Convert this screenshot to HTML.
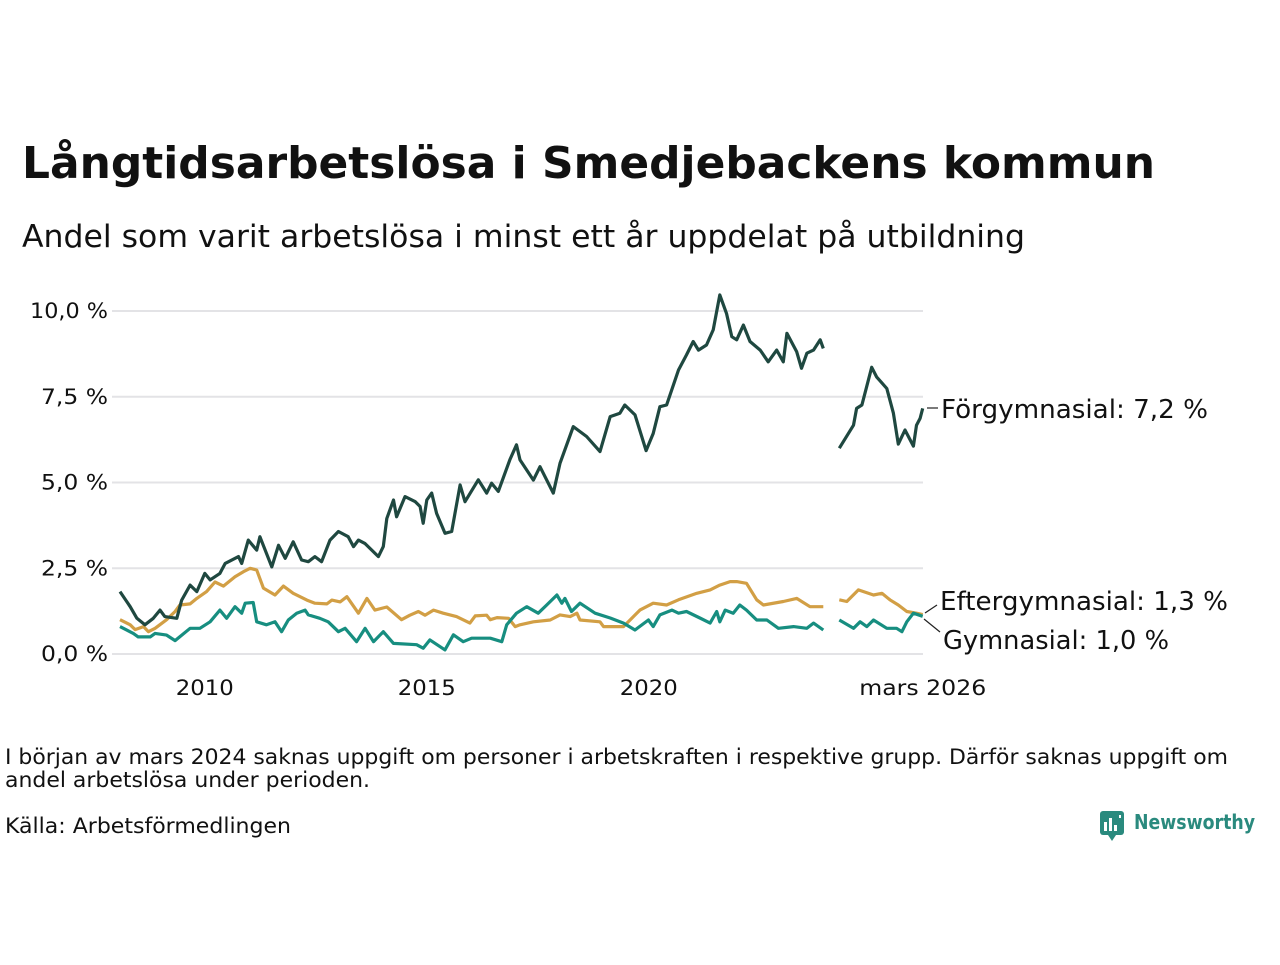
<!DOCTYPE html>
<html><head><meta charset="utf-8"><style>
body{margin:0;background:#fff;width:1280px;height:960px;overflow:hidden;font-family:"Liberation Sans",sans-serif;color:#111}
svg text{font-family:"DejaVu Sans","Liberation Sans",sans-serif}
</style></head><body>
<svg id="chart" width="1280" height="960">
<text x="22" y="178" font-size="44" font-weight="bold" fill="#111" textLength="1133" lengthAdjust="spacingAndGlyphs">Långtidsarbetslösa i Smedjebackens kommun</text>
<text x="22" y="247" font-size="31" fill="#111" textLength="1003" lengthAdjust="spacingAndGlyphs">Andel som varit arbetslösa i minst ett år uppdelat på utbildning</text>
<g id="grid"></g><g id="series"></g><g id="labels"></g>
<text x="5" y="764" font-size="21" fill="#111" textLength="1223" lengthAdjust="spacingAndGlyphs">I början av mars 2024 saknas uppgift om personer i arbetskraften i respektive grupp. Därför saknas uppgift om</text>
<text x="5" y="787" font-size="21" fill="#111" textLength="365" lengthAdjust="spacingAndGlyphs">andel arbetslösa under perioden.</text>
<text x="5" y="833" font-size="21" fill="#111" textLength="286" lengthAdjust="spacingAndGlyphs">Källa: Arbetsförmedlingen</text>
<g>
<rect x="1100" y="811" width="24" height="24" rx="3" fill="#2a8a7e"/>
<path d="M1108 835 L1112 841 L1116 835 Z" fill="#2a8a7e"/>
<rect x="1104" y="822" width="3" height="9" fill="#fff"/><rect x="1109" y="818" width="3" height="13" fill="#fff"/><rect x="1114" y="825" width="3" height="6" fill="#fff"/><rect x="1119" y="815" width="2" height="3" fill="#fff"/>
<text x="1134" y="829" font-size="20" font-weight="bold" fill="#2a8a7e" textLength="121" lengthAdjust="spacingAndGlyphs">Newsworthy</text>
</g>
</svg>
<script>
const yTicks=[0,2.5,5,7.5,10];
const yTickLabels=["0,0 %","2,5 %","5,0 %","7,5 %","10,0 %"];
const xTicks=[2010,2015,2020,2026.17];
const xTickLabels=["2010","2015","2020","mars 2026"];
const forgDates=[2008.09,2008.32,2008.47,2008.65,2008.84,2008.99,2009.1,2009.37,2009.48,2009.67,2009.82,2010.0,2010.12,2010.34,2010.46,2010.76,2010.83,2010.98,2011.17,2011.24,2011.51,2011.66,2011.81,2011.99,2012.18,2012.33,2012.48,2012.63,2012.82,2013.01,2013.23,2013.35,2013.46,2013.61,2013.91,2014.02,2014.1,2014.25,2014.32,2014.51,2014.74,2014.85,2014.92,2015.0,2015.11,2015.22,2015.41,2015.56,2015.75,2015.86,2016.16,2016.35,2016.46,2016.61,2016.87,2017.02,2017.1,2017.4,2017.55,2017.85,2018.0,2018.3,2018.6,2018.9,2019.13,2019.35,2019.46,2019.69,2019.94,2020.1,2020.25,2020.4,2020.67,2020.85,2021.0,2021.12,2021.3,2021.45,2021.6,2021.75,2021.87,2021.98,2022.13,2022.28,2022.51,2022.69,2022.88,2023.03,2023.11,2023.33,2023.44,2023.56,2023.71,2023.86,2023.93,2024.1,2024.29,2024.61,2024.68,2024.8,2025.02,2025.13,2025.36,2025.51,2025.62,2025.77,2025.96,2026.03,2026.11,2026.17];
const forgValues=[1.82,1.38,1.04,0.85,1.04,1.28,1.09,1.04,1.57,2.01,1.82,2.35,2.16,2.35,2.64,2.84,2.64,3.32,3.03,3.42,2.54,3.17,2.79,3.27,2.74,2.69,2.84,2.69,3.32,3.57,3.42,3.13,3.32,3.22,2.84,3.13,3.95,4.49,4.0,4.59,4.44,4.3,3.81,4.49,4.69,4.1,3.52,3.57,4.93,4.44,5.08,4.69,4.98,4.74,5.66,6.1,5.66,5.07,5.46,4.69,5.56,6.63,6.34,5.9,6.92,7.02,7.26,6.97,5.93,6.43,7.21,7.26,8.28,8.72,9.11,8.86,9.01,9.45,10.47,9.93,9.25,9.16,9.59,9.11,8.86,8.52,8.86,8.52,9.35,8.81,8.33,8.77,8.86,9.16,8.91,null,6.0,6.67,7.16,7.26,8.36,8.08,7.74,7.02,6.12,6.53,6.06,6.67,6.87,7.16];
const efterDates=[2008.09,2008.32,2008.43,2008.62,2008.73,2008.88,2009.14,2009.33,2009.44,2009.67,2009.82,2010.04,2010.23,2010.42,2010.68,2010.87,2011.02,2011.17,2011.32,2011.58,2011.77,2011.99,2012.3,2012.48,2012.75,2012.86,2013.05,2013.2,2013.46,2013.65,2013.83,2014.1,2014.43,2014.62,2014.81,2014.96,2015.15,2015.37,2015.67,2015.97,2016.09,2016.35,2016.43,2016.58,2016.84,2016.99,2017.1,2017.4,2017.78,2018.0,2018.23,2018.38,2018.45,2018.9,2018.98,2019.43,2019.8,2020.1,2020.4,2020.67,2021.08,2021.38,2021.6,2021.83,2021.98,2022.2,2022.43,2022.58,2023.03,2023.33,2023.63,2023.93,2024.1,2024.29,2024.46,2024.72,2025.06,2025.25,2025.43,2025.62,2025.81,2026.03,2026.17];
const efterValues=[1.0,0.85,0.71,0.8,0.65,0.75,1.0,1.24,1.43,1.46,1.62,1.82,2.1,1.98,2.25,2.4,2.5,2.45,1.92,1.72,1.98,1.77,1.57,1.48,1.46,1.57,1.52,1.67,1.19,1.62,1.28,1.37,1.0,1.13,1.24,1.13,1.28,1.19,1.09,0.9,1.11,1.13,1.0,1.06,1.04,0.8,0.85,0.94,0.99,1.14,1.09,1.19,0.99,0.94,0.8,0.8,1.28,1.48,1.43,1.58,1.77,1.87,2.01,2.11,2.11,2.06,1.58,1.43,1.53,1.62,1.38,1.38,null,1.58,1.53,1.87,1.72,1.77,1.58,1.43,1.24,1.19,1.15];
const gymDates=[2008.09,2008.39,2008.5,2008.77,2008.88,2009.14,2009.33,2009.67,2009.89,2010.12,2010.34,2010.49,2010.68,2010.83,2010.91,2011.09,2011.17,2011.39,2011.58,2011.73,2011.88,2012.07,2012.26,2012.33,2012.59,2012.78,2013.01,2013.16,2013.42,2013.61,2013.8,2014.02,2014.25,2014.77,2014.92,2015.07,2015.41,2015.6,2015.82,2016.01,2016.43,2016.69,2016.8,2017.02,2017.25,2017.51,2017.7,2017.93,2018.04,2018.11,2018.26,2018.45,2018.79,2019.13,2019.43,2019.69,2019.99,2020.1,2020.25,2020.52,2020.67,2020.85,2021.15,2021.38,2021.53,2021.6,2021.72,2021.9,2022.05,2022.2,2022.43,2022.66,2022.92,2023.26,2023.56,2023.71,2023.93,2024.1,2024.29,2024.61,2024.76,2024.91,2025.06,2025.36,2025.58,2025.7,2025.81,2025.96,2026.17];
const gymValues=[0.8,0.6,0.5,0.5,0.6,0.55,0.39,0.75,0.75,0.94,1.28,1.04,1.38,1.19,1.48,1.5,0.94,0.85,0.94,0.65,0.99,1.19,1.28,1.14,1.04,0.94,0.65,0.75,0.36,0.75,0.36,0.65,0.31,0.27,0.17,0.41,0.12,0.56,0.36,0.46,0.46,0.36,0.85,1.19,1.38,1.19,1.43,1.72,1.48,1.62,1.24,1.48,1.19,1.05,0.9,0.7,0.99,0.8,1.14,1.28,1.19,1.24,1.05,0.9,1.24,0.94,1.28,1.19,1.43,1.28,0.99,0.99,0.75,0.8,0.75,0.9,0.7,null,0.99,0.75,0.94,0.8,0.99,0.75,0.75,0.65,0.94,1.19,1.1];
const NS='http://www.w3.org/2000/svg';
const X0=112,X1=923;
function xs(y){return 116+(y-2008)*44.4;}
function ys(v){return 654-v*34.3;}
function mk(t,a,p){const e=document.createElementNS(NS,t);for(const k in a)e.setAttribute(k,a[k]);p.appendChild(e);return e;}
const grid=document.getElementById('grid');
yTicks.forEach((t,i)=>{
  const l=mk('line',{x1:X0,x2:X1,y1:ys(t),y2:ys(t),stroke:'#e3e3e6','stroke-width':2},grid);
  
  
  const w=yTickLabels[i].length>5?78:67;
  const tx=mk('text',{x:108,y:ys(t)+7,'font-size':21,'text-anchor':'end',fill:'#111',textLength:w,lengthAdjust:'spacingAndGlyphs'},grid);
  tx.textContent=yTickLabels[i];
  
  
});
xTicks.forEach((t,i)=>{
  const w=xTickLabels[i].length>4?127:58;
  const tx=mk('text',{x:xs(t),y:695,'font-size':21,'text-anchor':'middle',fill:'#111',textLength:w,lengthAdjust:'spacingAndGlyphs'},grid);
  tx.textContent=xTickLabels[i];
  
  
});
const sg=document.getElementById('series');
function draw(d,v,col,name){
  let p='',pen=false;
  d.forEach((t,i)=>{ if(v[i]==null){pen=false;return;} p+=(pen?'L':'M')+xs(t).toFixed(1)+' '+ys(v[i]).toFixed(1); pen=true;});
  const e=mk('path',{d:p,fill:'none',stroke:col,'stroke-width':3.2,'stroke-linejoin':'round'},sg);
  
  
}
draw(efterDates,efterValues,'#d29f45','line-eftergymnasial');
draw(gymDates,gymValues,'#178e80','line-gymnasial');
draw(forgDates,forgValues,'#1f4840','line-forgymnasial');
const lg=document.getElementById('labels');
function lab(txt,x,y,w,lx1,ly1,lx2,ly2,name){
  const l=mk('line',{x1:lx1,y1:ly1,x2:lx2,y2:ly2,stroke:'#222','stroke-width':1.2},lg);
  
  
  const t=mk('text',{x:x,y:y,'font-size':26,fill:'#111',textLength:w,lengthAdjust:'spacingAndGlyphs'},lg);
  t.textContent=txt;
  
  
}
lab('Förgymnasial: 7,2 %',941,418,267,927,408,938,408,'label-forgymnasial');
lab('Eftergymnasial: 1,3 %',940,610,288,925,613,937,605,'label-eftergymnasial');
lab('Gymnasial: 1,0 %',943,649,226,924,619,940,632,'label-gymnasial');
</script>
</body></html>
